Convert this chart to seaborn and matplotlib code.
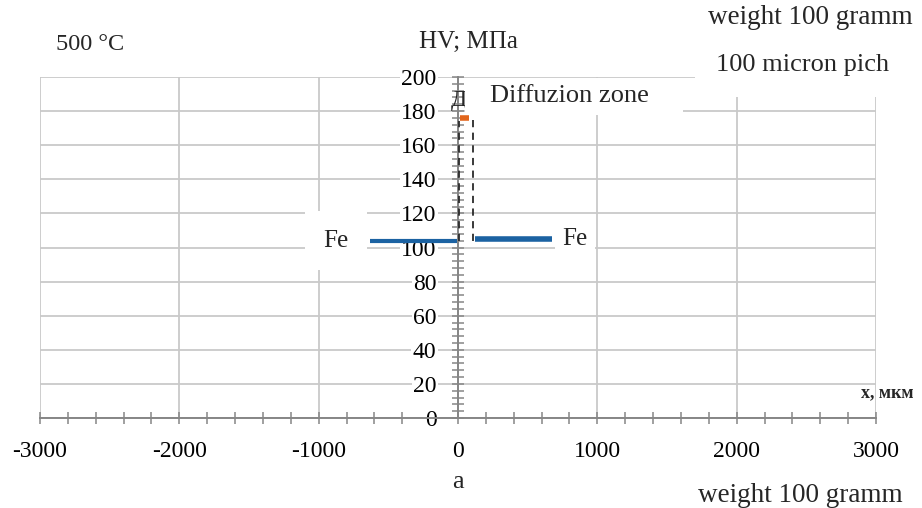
import matplotlib
matplotlib.use("Agg")
import matplotlib.pyplot as plt
from matplotlib.patches import Rectangle
from matplotlib.ticker import MultipleLocator, FixedLocator, FuncFormatter
import seaborn as sns

# Hardness profile across the Fe joint: HV (MPa) versus distance x (µm)
fe_left_x = [-630, -10]
fe_left_hv = [104, 104]
fe_right_x = [120, 675]
fe_right_hv = [105, 105]
zone_x = [15, 78]
zone_hv = [176, 176]
bound_left_x = [10, 10]
bound_left_hv = [104, 174]
bound_right_x = [105, 105]
bound_right_hv = [175, 104]

x_ticks = [-3000, -2000, -1000, 0, 1000, 2000, 3000]
y_ticks = list(range(0, 201, 20))

BLUE = "#1b62a2"
ORANGE = "#e2661c"
GRID = "#c9c9c9"
AXIS = "#868686"

sns.set_theme(style="white")
plt.rcParams["font.family"] = ["Liberation Serif", "DejaVu Serif"]
plt.rcParams["axes.unicode_minus"] = False

W, H = 922, 508
fig = plt.figure(figsize=(W / 100, H / 100), dpi=100)
fig.patch.set_facecolor("white")
ax = fig.add_axes([40 / W, 90 / H, 836 / W, 341 / H])


def fx(px):
    return px / W


def fy(py):
    return 1 - py / H


line_kw = dict(estimator=None, sort=False, ax=ax, legend=False)
sns.lineplot(x=fe_left_x, y=fe_left_hv, color=BLUE, linewidth=3.0,
             solid_capstyle="butt", zorder=4, **line_kw)
sns.lineplot(x=fe_right_x, y=fe_right_hv, color=BLUE, linewidth=4.0,
             solid_capstyle="butt", zorder=4, **line_kw)
sns.lineplot(x=bound_left_x, y=bound_left_hv, color="#2a2a2a", linewidth=1.3,
             linestyle=(0, (4, 3)), zorder=4, **line_kw)
sns.lineplot(x=bound_right_x, y=bound_right_hv, color="#2a2a2a", linewidth=1.3,
             linestyle=(0, (4, 3)), zorder=4, **line_kw)
sns.lineplot(x=zone_x, y=zone_hv, color=ORANGE, linewidth=4.0,
             solid_capstyle="butt", zorder=5, **line_kw)

ax.set_xlim(-3000, 3000)
ax.set_ylim(0, 200)
ax.set_xlabel("")
ax.set_ylabel("")
ax.set_facecolor("white")
ax.set_axisbelow(True)

ax.xaxis.set_major_locator(FixedLocator(x_ticks))
ax.yaxis.set_major_locator(FixedLocator(y_ticks))
ax.xaxis.set_minor_locator(MultipleLocator(200))
ax.yaxis.set_minor_locator(MultipleLocator(4))
ax.xaxis.set_major_formatter(FuncFormatter(lambda v, p: f"{int(v)}"))
ax.yaxis.set_major_formatter(FuncFormatter(lambda v, p: f"{int(v)}"))

ax.grid(True, which="major", color=GRID, linewidth=1.3)

for side in ("top", "right"):
    ax.spines[side].set_visible(False)
ax.spines["left"].set_position(("data", 0))
for side in ("left", "bottom"):
    ax.spines[side].set_color(AXIS)
    ax.spines[side].set_linewidth(1.4)

ax.tick_params(which="both", direction="inout", length=9, width=1.1,
               color=AXIS, labelcolor="black", labelsize=17,
               bottom=True, left=True, top=False, right=False)
ax.tick_params(axis="x", which="both", pad=12)
ax.tick_params(axis="y", which="both", pad=11)
for lab in ax.get_yticklabels():
    lab.set_bbox(dict(facecolor="white", edgecolor="none", pad=1))

# segment labels
ax.text(-876, 104, "Fe", ha="center", va="center", fontsize=18, zorder=6,
        bbox=dict(boxstyle="square,pad=0.75", facecolor="white", edgecolor="none"))
ax.text(840, 105, "Fe", ha="center", va="center", fontsize=18, zorder=6,
        bbox=dict(boxstyle="square,pad=0.3", facecolor="white", edgecolor="none"))
ax.text(2, 186, "Д", ha="center", va="center", fontsize=17, zorder=6)

# white panels behind the zone caption and the legend notes
fig.add_artist(Rectangle((fx(465), fy(115)), fx(683) - fx(465), (115 - 78) / H,
                         transform=fig.transFigure, facecolor="white",
                         edgecolor="none", zorder=1))
fig.add_artist(Rectangle((fx(695), fy(97)), fx(922) - fx(695), 97 / H,
                         transform=fig.transFigure, facecolor="white",
                         edgecolor="none", zorder=1))

fig.text(fx(569), fy(96), "Diffuzion zone", ha="center", va="center", fontsize=19)
fig.text(fx(810), fy(18), "weight 100 gramm", ha="center", va="center", fontsize=19.5)
fig.text(fx(803), fy(65), "100 micron pich", ha="center", va="center", fontsize=19)
fig.text(fx(90), fy(44), "500 °C", ha="center", va="center", fontsize=17.5)
fig.text(fx(468), fy(42), "HV; МПа", ha="center", va="center", fontsize=18)
fig.text(fx(887), fy(393), "x, мкм", ha="center", va="center", fontsize=13,
         fontweight="bold")
fig.text(fx(458), fy(482), "a", ha="center", va="center", fontsize=19)
fig.text(fx(800), fy(495), "weight 100 gramm", ha="center", va="center", fontsize=19.5)

fig.savefig("out.png", dpi=100, facecolor="white")
